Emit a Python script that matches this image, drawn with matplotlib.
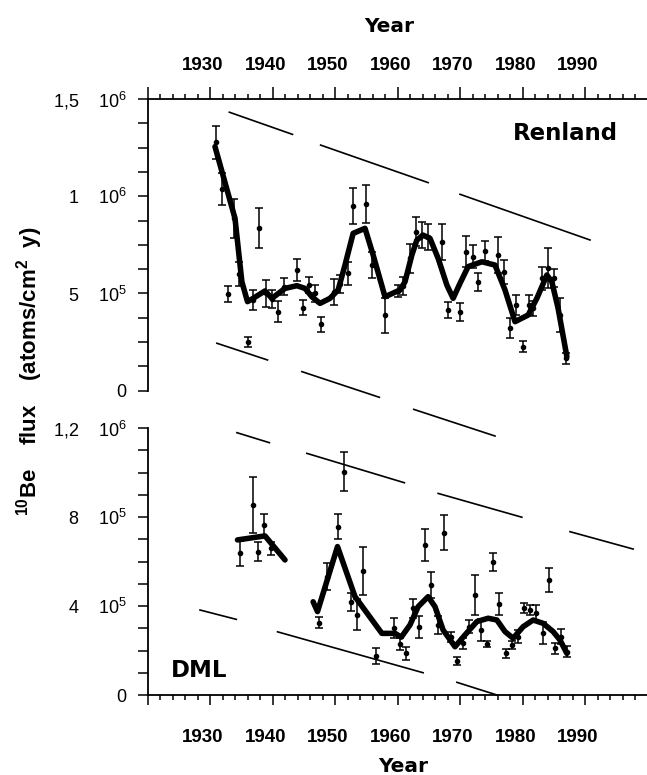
import matplotlib
matplotlib.use('Agg')
import matplotlib.pyplot as plt
from matplotlib.ticker import MultipleLocator
from matplotlib.transforms import ScaledTranslation

plt.rcParams['mathtext.default'] = 'regular'

# 10Be flux, jednostki: 1e5 atoms/cm2 y
# Renland - punkty pomiarowe
ren_year = [1931.0, 1931.9, 1932.9, 1933.9, 1934.6, 1936.0, 1936.9, 1937.9, 1939.0, 1939.9,
            1940.9, 1941.9, 1943.9, 1944.8, 1945.9, 1946.8, 1947.8, 1949.9, 1950.8, 1952.0,
            1952.9, 1955.0, 1955.9, 1958.0, 1960.1, 1960.9, 1962.0, 1963.0, 1963.9, 1964.9,
            1967.1, 1968.0, 1970.0, 1971.0, 1972.0, 1972.9, 1974.0, 1976.0, 1977.0, 1978.0,
            1979.0, 1980.0, 1981.0, 1981.7, 1983.1, 1984.0, 1985.0, 1986.0, 1987.0]
ren_flux = [12.77, 10.37, 4.97, 8.86, 6.00, 2.52, 4.66, 8.38, 5.00, 4.72,
            4.06, 5.35, 6.21, 4.27, 5.43, 5.00, 3.41, 5.07, 5.49, 6.04,
            9.51, 9.60, 6.46, 3.89, 5.14, 5.40, 6.80, 8.18, 8.00, 7.92,
            7.66, 4.15, 4.06, 7.15, 6.89, 5.60, 7.18, 6.98, 6.10, 3.21,
            4.41, 2.26, 4.41, 4.23, 5.78, 6.29, 5.78, 3.89, 1.66]
ren_err = [0.86, 0.80, 0.43, 1.00, 0.60, 0.26, 0.50, 1.03, 0.68, 0.47,
           0.53, 0.45, 0.55, 0.40, 0.43, 0.43, 0.40, 0.67, 0.47, 0.60,
           0.93, 1.00, 0.68, 0.90, 0.30, 0.47, 0.73, 0.73, 0.67, 0.66,
           0.93, 0.43, 0.47, 0.81, 0.60, 0.47, 0.51, 0.93, 0.60, 0.51,
           0.53, 0.27, 0.51, 0.39, 0.60, 1.03, 0.47, 0.86, 0.30]

# Renland - krzywa wygladzona
ren_fit_year = [1930.8, 1934.0, 1935.1, 1936.0, 1936.9, 1938.8, 1939.9, 1942.0, 1943.9, 1945.2,
                1946.3, 1947.6, 1949.2, 1950.5, 1951.6, 1952.9, 1954.8, 1956.1, 1958.0, 1960.4,
                1961.2, 1962.3, 1963.1, 1964.1, 1965.2, 1966.5, 1967.9, 1968.9, 1970.0, 1971.3,
                1973.5, 1975.6, 1977.2, 1978.8, 1980.9, 1982.3, 1983.9, 1984.7, 1985.7, 1987.1]
ren_fit_flux = [12.55, 8.86, 5.60, 4.58, 4.75, 5.13, 4.75, 5.26, 5.40, 5.26,
                4.83, 4.49, 4.75, 5.18, 6.46, 8.09, 8.35, 6.98, 4.83, 5.18,
                5.60, 6.98, 7.75, 8.00, 7.83, 6.81, 5.43, 4.75, 5.52, 6.38,
                6.63, 6.46, 5.18, 3.55, 3.89, 4.75, 5.95, 5.60, 4.23, 1.75]

# DML - punkty pomiarowe
dml_year = [1934.8, 1936.8, 1937.7, 1938.7, 1939.7, 1947.4, 1948.7, 1950.4, 1951.5, 1952.5,
            1953.5, 1954.5, 1956.5, 1959.4, 1960.4, 1961.4, 1962.4, 1963.5, 1964.4, 1965.4,
            1966.5, 1967.4, 1968.6, 1969.5, 1970.4, 1971.4, 1972.4, 1973.3, 1974.3, 1975.3,
            1976.3, 1977.3, 1978.3, 1979.2, 1980.2, 1981.2, 1982.2, 1983.2, 1984.3, 1985.2,
            1986.1, 1987.1]
dml_flux = [6.37, 8.54, 6.44, 7.64, 6.59, 3.25, 5.32, 7.57, 10.04, 4.19,
            3.60, 5.57, 1.75, 3.00, 2.30, 1.87, 3.90, 3.07, 6.74, 4.94,
            3.15, 7.30, 2.62, 1.53, 2.32, 3.07, 4.49, 2.92, 2.29, 5.99,
            4.09, 1.87, 2.25, 2.62, 3.90, 3.82, 3.67, 2.77, 5.17, 2.10,
            2.62, 1.95]
dml_err = [0.56, 1.24, 0.42, 0.50, 0.30, 0.25, 0.60, 0.55, 0.86, 0.40,
           0.70, 1.09, 0.35, 0.45, 0.28, 0.30, 0.43, 0.50, 0.70, 0.60,
           0.40, 0.80, 0.22, 0.18, 0.25, 0.30, 0.90, 0.50, 0.12, 0.41,
           0.50, 0.20, 0.18, 0.30, 0.22, 0.22, 0.37, 0.50, 0.55, 0.25,
           0.34, 0.26]

# DML - krzywa wygladzona (dwa odcinki)
dml_fit1_year = [1934.4, 1938.8, 1942.0]
dml_fit1_flux = [6.97, 7.15, 6.07]
dml_fit2_year = [1946.5, 1947.2, 1950.4, 1953.2, 1957.5, 1959.6, 1960.6, 1962.0, 1963.3, 1964.9,
                 1966.0, 1967.3, 1969.2, 1970.8, 1972.7, 1974.5, 1975.9, 1977.2, 1978.5, 1980.1,
                 1981.7, 1983.3, 1984.9, 1986.0, 1987.1]
dml_fit2_flux = [4.19, 3.75, 6.67, 4.42, 2.77, 2.77, 2.60, 3.15, 3.97, 4.42,
                 3.97, 2.92, 2.17, 2.70, 3.30, 3.45, 3.37, 2.85, 2.55, 3.07,
                 3.37, 3.22, 2.85, 2.47, 1.87]

# ukosne linie przerywane (rok0, rok1, flux0, flux1)
ren_guides = [(1933.1, 1943.2, 14.32, 13.18), (1947.7, 1964.9, 12.63, 10.70),
              (1970.0, 1990.8, 10.10, 7.75), (1931.1, 1939.2, 2.44, 1.58),
              (1944.7, 1957.1, 0.98, -0.34), (1962.6, 1975.6, -0.96, -2.33)]
dml_guides = [(1934.3, 1939.5, 11.79, 11.34), (1945.5, 1961.1, 10.86, 9.54),
              (1966.5, 1979.9, 9.06, 7.99), (1987.6, 1997.7, 7.34, 6.56),
              (1928.4, 1934.2, 3.82, 3.40), (1940.8, 1964.1, 2.84, 1.00),
              (1969.5, 1975.9, 0.57, 0.00)]

year_ticks = list(range(1920, 2001, 10))
year_labels = ['', '1930', '1940', '1950', '1960', '1970', '1980', '1990', '']
ren_yticks = [0, 5, 10, 15]
ren_ylabels = ['0', '5    10$^5$', '1    10$^6$', '1,5    10$^6$']
dml_yticks = [0, 4, 8, 12]
dml_ylabels = ['0', '4    10$^5$', '8    10$^5$', '1,2    10$^6$']

W, H = 647, 775
fig = plt.figure(figsize=(W / 100, H / 100), dpi=100)


def osie_px(x0, y0, x1, y1):
    return fig.add_axes([x0 / W, 1 - y1 / H, (x1 - x0) / W, (y1 - y0) / H])


def rysuj_panel(ax, year, flux, err, fits, guides, yticks, ylabels, ymax, yminor):
    for g in guides:
        ax.plot(g[:2], g[2:], color='k', lw=1.2, clip_on=False)
    ax.errorbar(year, flux, yerr=err, fmt='o', ms=3.0, color='k', ecolor='k',
                elinewidth=1.1, capsize=3.0, capthick=1.1)
    for fy, ff in fits:
        ax.plot(fy, ff, color='k', lw=4.0, solid_joinstyle='round', solid_capstyle='round')

    ax.set_xlim(1920, 2000)
    ax.set_ylim(0, ymax)
    ax.set_xticks(year_ticks)
    ax.set_xticklabels(year_labels)
    ax.xaxis.set_minor_locator(MultipleLocator(2))
    ax.set_yticks(yticks)
    ax.set_yticklabels(ylabels)
    ax.yaxis.set_minor_locator(MultipleLocator(yminor))
    ax.spines['right'].set_visible(False)
    for s in ax.spines.values():
        s.set_linewidth(1.3)
    ax.patch.set_alpha(0)
    ax.tick_params(axis='y', which='both', direction='out', length=7, width=1.1, pad=8.0,
                   labelsize=13)


# panel Renland
ax1 = osie_px(147.5, 99, 647.5, 390.7)
rysuj_panel(ax1, ren_year, ren_flux, ren_err, [(ren_fit_year, ren_fit_flux)],
            ren_guides, ren_yticks, ren_ylabels, 15, 1.25)
ax1.spines['bottom'].set_visible(False)
ax1.tick_params(axis='x', which='both', top=True, bottom=False, labeltop=True, labelbottom=False)
ax1.tick_params(axis='x', which='major', direction='out', length=8.4, width=1.1, pad=9.5,
                labelsize=13.5)
ax1.tick_params(axis='x', which='minor', direction='out', length=3.6, width=1.1)

# panel DML
ax2 = osie_px(147.5, 428, 647.5, 695)
rysuj_panel(ax2, dml_year, dml_flux, dml_err,
            [(dml_fit1_year, dml_fit1_flux), (dml_fit2_year, dml_fit2_flux)],
            dml_guides, dml_yticks, dml_ylabels, 12, 1)
ax2.spines['top'].set_visible(False)
ax2.tick_params(axis='x', which='major', direction='out', length=7.2, width=1.1, pad=17.5,
                labelsize=13.5)
ax2.tick_params(axis='x', which='minor', direction='out', length=3.6, width=1.1)

# czcionki i przesuniecie etykiet lat
przes = ScaledTranslation(-0.07, 0, fig.dpi_scale_trans)
for ax in (ax1, ax2):
    for lbl in ax.get_xticklabels():
        lbl.set_fontfamily('Liberation Sans')
        lbl.set_fontweight('bold')
        lbl.set_transform(lbl.get_transform() + przes)
    for lbl in ax.get_yticklabels():
        lbl.set_fontfamily('Liberation Sans')

# napisy
fig.text(389 / W, 1 - 32 / H, 'Year', ha='center', va='baseline', fontsize=14.5,
         fontweight='bold', family='DejaVu Sans')
fig.text(403 / W, 1 - 772 / H, 'Year', ha='center', va='baseline', fontsize=14.5,
         fontweight='bold', family='DejaVu Sans')
fig.text(513 / W, 1 - 140 / H, 'Renland', ha='left', va='baseline', fontsize=16.5,
         fontweight='bold', family='DejaVu Sans')
fig.text(171 / W, 1 - 677 / H, 'DML', ha='left', va='baseline', fontsize=16.5,
         fontweight='bold', family='DejaVu Sans')
fig.text(30 / W, 1 - 371 / H, r'$^{10}$Be    flux    (atoms/cm$^{2}$  y)', rotation=90,
         ha='center', va='center', fontsize=16, fontweight='bold', family='Liberation Sans')

fig.savefig('out.png', dpi=100)
